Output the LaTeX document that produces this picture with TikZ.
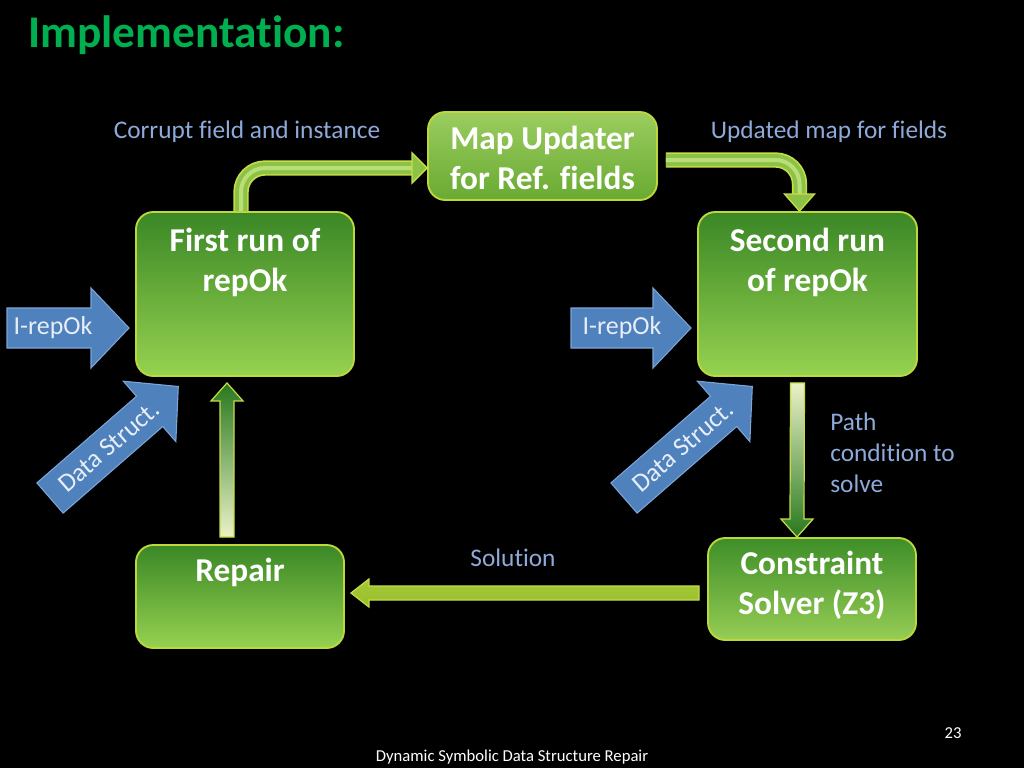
\documentclass[tikz,border=0pt]{standalone}
\usepackage{fontspec}
\setmainfont{Carlito}[Ligatures={TeX,NoCommon}]
\usetikzlibrary{calc}
\definecolor{titlegreen}{RGB}{0,176,80}
\definecolor{lblblue}{RGB}{142,170,219}
\definecolor{boxtop}{RGB}{58,135,38}
\definecolor{boxmid}{RGB}{172,206,112}
\definecolor{boxbot}{RGB}{150,210,80}
\definecolor{boxedge}{RGB}{190,215,60}
\definecolor{bluefill}{RGB}{79,129,189}
\definecolor{blueedge}{RGB}{125,165,215}
\definecolor{bluetext}{RGB}{232,238,248}
\definecolor{gedge}{RGB}{200,220,70}
\definecolor{gmain}{RGB}{140,195,70}
\definecolor{glight}{RGB}{185,222,120}
\definecolor{gdark}{RGB}{40,120,30}
\definecolor{gpale}{RGB}{235,242,200}
\begin{document}
\begin{tikzpicture}[x=0.75pt,y=-0.75pt,
  box/.style={draw=boxedge, line width=1.4pt, rounded corners=13pt, inner sep=0pt,
    top color=boxtop, middle color=boxmid, bottom color=boxbot},
  boxtext/.style={text=white, font=\bfseries\fontsize{25}{30}\selectfont, align=center, inner sep=0pt},
  lbl/.style={text=lblblue, font=\fontsize{19}{23.25}\selectfont, inner sep=0pt},
  foot/.style={text=white, font=\fontsize{12.5}{15}\selectfont, inner sep=0pt},
  bltext/.style={text=bluetext, font=\fontsize{19.5}{23}\selectfont, inner sep=0pt},
  blshape/.style={fill=bluefill, draw=blueedge, line width=0.8pt, line join=miter},
  gshaft/.style={rounded corners=18pt, preaction={draw=gedge, line width=11.5pt},
    draw=gmain, line width=9pt, postaction={draw=glight, line width=3pt}},
  ghead/.style={fill=gmain, draw=gedge, line width=1pt, line join=miter},
  gbar/.style={draw=gedge, line width=0.9pt, line join=miter}
]
\path[use as bounding box, fill=black] (0,0) rectangle (1024,768);

% title
\node[anchor=base west, text=titlegreen, font=\bfseries\fontsize{34}{40}\selectfont, inner sep=0pt]
  (title) at (28,47) {Implementation:};

% boxes
\node[box, minimum width=171.75pt, minimum height=66pt,
  top color={rgb,255:red,155;green,205;blue,95}, middle color={rgb,255:red,140;green,195;blue,80},
  bottom color={rgb,255:red,105;green,170;blue,50}] (map) at (542.5,156) {};
\node[box, minimum width=163.5pt, minimum height=123pt] (first) at (245,294) {};
\node[box, minimum width=164.25pt, minimum height=123pt] (second) at (807.5,294) {};
\node[box, minimum width=156pt, minimum height=77.25pt] (repair) at (240,596.5) {};
\node[box, minimum width=156pt, minimum height=76.5pt,
  top color={rgb,255:red,62;green,142;blue,40}, middle color={rgb,255:red,125;green,185;blue,72},
  bottom color={rgb,255:red,150;green,205;blue,85}] (solver) at (812,589) {};

% box texts
\node[boxtext] (mapT) at ($(map.center)+(0,2)$) {Map Updater\\for Ref. fields};
\node[boxtext] (firstT) at ($(first.north)+(0,51)$) {First run of\\repOk};
\node[boxtext] (secondT) at ($(second.north)+(0,51)$) {Second run\\of repOk};
\node[boxtext] (repairT) at ($(repair.north)+(0,28)$) {Repair};
\node[boxtext] (solverT) at ($(solver.center)+(0,-4)$) {Constraint\\Solver (Z3)};

% elbow arrow: first -> map
\coordinate (h1) at ($(map.west)+(-15,12)$);
\draw[gshaft] ($(first.north)+(-4,0)$) |- ($(h1)+(2,0)$);
\filldraw[ghead] ($(h1)+(0,-15)$) -- ($(map.west)+(0,12)$) -- ($(h1)+(0,15)$) -- cycle;

% elbow arrow: map -> second
\coordinate (h2) at ($(second.north)+(-8,-17)$);
\draw[gshaft] ($(map.east)+(8,4)$) -| ($(h2)+(0,2)$);
\filldraw[ghead] ($(h2)+(-15,0)$) -- ($(second.north)+(-8,0)$) -- ($(h2)+(15,0)$) -- cycle;

% second -> solver
\coordinate (a) at ($(second.south)+(-10,6)$);
\coordinate (b) at ($(solver.north)+(-15,0)$);
\shadedraw[gbar, top color=gpale, bottom color=gdark]
  ($(a)+(-7,0)$) -- ($(b)+(-7,-18)$) -- ($(b)+(-16,-18)$) -- (b) -- ($(b)+(16,-18)$)
  -- ($(b)+(7,-18)$) -- ($(a)+(7,0)$) -- cycle;

% repair -> first
\coordinate (c) at ($(repair.north)+(-13,-7)$);
\coordinate (d) at ($(first.south)+(-18,6)$);
\shadedraw[gbar, top color=gdark, bottom color=gpale]
  ($(c)+(-7,0)$) -- ($(d)+(-7,18)$) -- ($(d)+(-16,18)$) -- (d) -- ($(d)+(16,18)$)
  -- ($(d)+(7,18)$) -- ($(c)+(7,0)$) -- cycle;

% solver -> repair
\coordinate (e) at ($(solver.west)+(-8,4)$);
\coordinate (f) at ($(repair.east)+(6,-3.5)$);
\shadedraw[gbar, top color={rgb,255:red,165;green,200;blue,55}, middle color={rgb,255:red,232;green,244;blue,170},
  bottom color={rgb,255:red,150;green,192;blue,45}]
  ($(e)+(0,-7)$) -- ($(f)+(18,-7)$) -- ($(f)+(18,-14)$) -- (f) -- ($(f)+(18,14)$)
  -- ($(f)+(18,7)$) -- ($(e)+(0,7)$) -- cycle;

% blue input arrows
\begin{scope}[shift={(7,328)}]
  \filldraw[blshape] (0,-20) -- (84,-20) -- (84,-40) -- (122,0) -- (84,40) -- (84,20) -- (0,20) -- cycle;
  \node[bltext] (in1) at (46,0) {I-repOk};
\end{scope}
\begin{scope}[shift={(571,328)}]
  \filldraw[blshape] (0,-20) -- (82,-20) -- (82,-40) -- (120,0) -- (82,40) -- (82,20) -- (0,20) -- cycle;
  \node[bltext] (in2) at (51,0) {I-repOk};
\end{scope}
\begin{scope}[shift={(50,498)}, rotate=41]
  \filldraw[blshape] (0,-20) -- (132,-20) -- (132,-40) -- (170,0) -- (132,40) -- (132,20) -- (0,20) -- cycle;
  \node[bltext, rotate=41] (ds1) at (78,0) {Data Struct.};
\end{scope}
\begin{scope}[shift={(624,498)}, rotate=41]
  \filldraw[blshape] (0,-20) -- (132,-20) -- (132,-40) -- (170,0) -- (132,40) -- (132,20) -- (0,20) -- cycle;
  \node[bltext, rotate=41] (ds2) at (78,0) {Data Struct.};
\end{scope}

% labels
\node[lbl] (corrupt) at (247,132) {Corrupt field and instance};
\node[lbl] (updated) at (829,132) {Updated map for fields};
\node[lbl, anchor=west, align=left] (pathc) at (830,453) {Path\\condition to\\solve};
\node[lbl] (sol) at (513,558) {Solution};

% footer
\node[foot] (num) at (953,733) {23};
\node[foot] (footer) at (512,757) {Dynamic Symbolic Data Structure Repair};
\end{tikzpicture}
\end{document}
